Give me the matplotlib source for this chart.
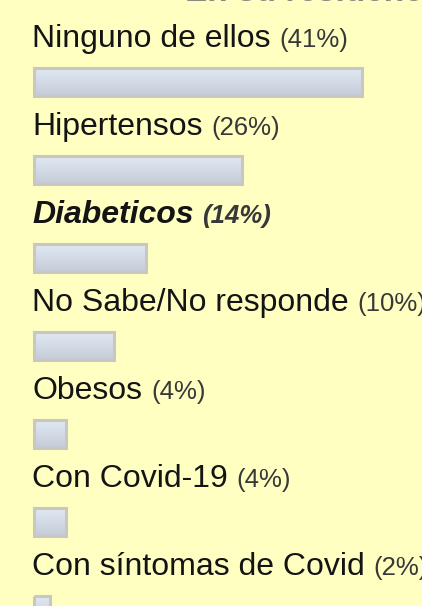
import matplotlib
matplotlib.use("Agg")
import matplotlib.pyplot as plt
import numpy as np
from matplotlib.colors import LinearSegmentedColormap

# ---- data ----
title = "En su residencia hay:"
categories = [
    "Ninguno de ellos",
    "Hipertensos",
    "Diabeticos",
    "No Sabe/No responde",
    "Obesos",
    "Con Covid-19",
    "Con síntomas de Covid",
]
percentages = [41, 26, 14, 10, 4, 4, 2]
selected = "Diabeticos"

# ---- layout constants (pixels) ----
W, H = 422, 606
PX_PER_PCT = 8.0
X0_PX = 33.5          # pixel position of 0 %
ROW0_PX = 82.0        # centre of first bar
ROW_STEP = 88.0       # distance between rows
BAR_H_PX = 28.0
LABEL_X_PX = 32.0
LABEL_UP_PX = 35.0    # baseline above bar centre

BG = "#FFFFC2"
TEXT_C = "#141414"
PCT_C = "#383838"

fig = plt.figure(figsize=(W / 100, H / 100), dpi=100)
fig.patch.set_facecolor(BG)
ax = fig.add_axes([0, 0, 1, 1])
ax.set_facecolor(BG)
ax.axis("off")

def px_to_x(px):
    return (px - X0_PX) / PX_PER_PCT

xlim = (px_to_x(0), px_to_x(W))
ylim = ((H - ROW0_PX) / ROW_STEP, -ROW0_PX / ROW_STEP)

rows = np.arange(len(categories))
bars = ax.barh(rows, percentages, height=BAR_H_PX / ROW_STEP, left=0,
               color="none", edgecolor="#c8c8be", linewidth=2.2, zorder=3)

cmap = LinearSegmentedColormap.from_list("g", ["#e0e8f2", "#c5ccd8"])
grad = np.linspace(0, 1, 64).reshape(-1, 1)
for b in bars:
    x, y = b.get_x(), b.get_y()
    w, h = b.get_width(), b.get_height()
    im = ax.imshow(grad, extent=[x, x + w, y + h, y], aspect="auto",
                   cmap=cmap, zorder=2, interpolation="bilinear")
    im.set_clip_path(b)

ax.set_xlim(*xlim)
ax.set_ylim(*ylim)

label_fs = 23
pct_fs = 18.5
labels = []
for i, (cat, p) in enumerate(zip(categories, percentages)):
    sel = cat == selected
    y = i - LABEL_UP_PX / ROW_STEP
    t = ax.text(px_to_x(LABEL_X_PX), y, cat, fontsize=label_fs,
                family="Liberation Sans", color=TEXT_C, va="baseline", ha="left",
                fontweight="bold" if sel else "normal",
                fontstyle="italic" if sel else "normal")
    labels.append((t, y, p, sel))

fig.canvas.draw()
renderer = fig.canvas.get_renderer()
inv = ax.transData.inverted()
for t, y, p, sel in labels:
    bb = t.get_window_extent(renderer)
    xd = inv.transform((bb.x1 + 9, 0))[0]
    ax.text(xd, y, f"({p}%)", fontsize=pct_fs, family="Liberation Sans",
            color=PCT_C, va="baseline", ha="left",
            fontweight="bold" if sel else "normal",
            fontstyle="italic" if sel else "normal")

# cut-off title at top (only the very bottom of the glyphs is visible)
fig.text(185 / W, 1 - 1 / H, title, fontsize=24, family="Liberation Sans",
         fontweight="bold", color="#8a8a80", va="baseline", ha="left")

fig.savefig("out.png", dpi=100, facecolor=BG)
